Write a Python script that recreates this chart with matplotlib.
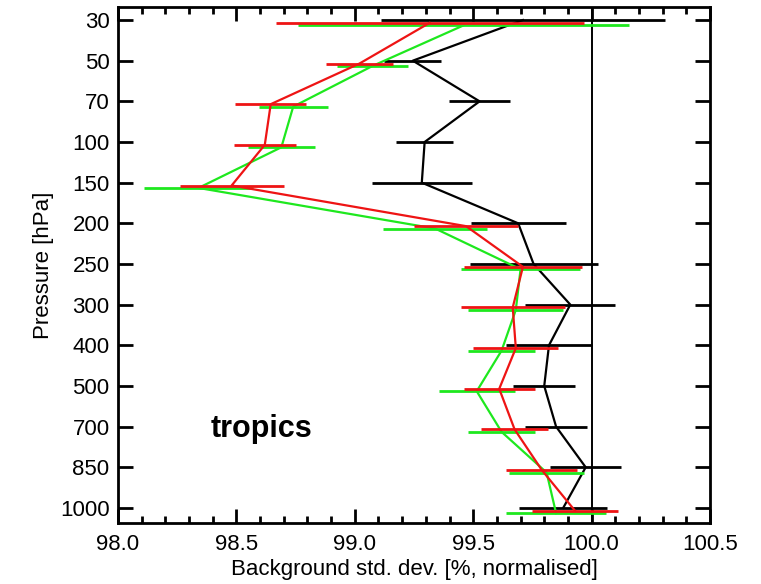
import matplotlib
matplotlib.use("Agg")
import matplotlib.pyplot as plt
import numpy as np
from matplotlib.ticker import MultipleLocator, FormatStrFormatter

plt.rcParams['font.family'] = ['Liberation Sans', 'DejaVu Sans']

levels = ["30", "50", "70", "100", "150", "200", "250", "300", "400", "500", "700", "850", "1000"]

black_val = [99.71, 99.245, 99.527, 99.295, 99.283, 99.69, 99.755, 99.91, 99.82, 99.80, 99.85, 99.975, 99.88]
black_err = [0.60, 0.12, 0.13, 0.12, 0.21, 0.20, 0.27, 0.19, 0.18, 0.13, 0.13, 0.15, 0.185]

red_val = [99.316, 99.02, 98.645, 98.62, 98.48, 99.47, 99.71, 99.667, 99.68, 99.61, 99.675, 99.79, 99.93]
red_err = [0.65, 0.14, 0.15, 0.13, 0.22, 0.22, 0.25, 0.22, 0.18, 0.15, 0.14, 0.15, 0.18]

green_val = [99.46, 99.075, 98.74, 98.69, 98.34, 99.34, 99.70, 99.68, 99.62, 99.515, 99.62, 99.81, 99.85]
green_err = [0.70, 0.15, 0.145, 0.14, 0.23, 0.22, 0.25, 0.20, 0.14, 0.16, 0.14, 0.16, 0.21]

fig = plt.figure(figsize=(7.61, 5.84), dpi=100)
ax = fig.add_axes([0.155, 0.1045, 0.778, 0.8835])

idx = np.arange(len(levels))
series = [
    (black_val, black_err, 'black', 0.0),
    (green_val, green_err, '#1ee81e', 0.13),
    (red_val, red_err, '#ee1414', 0.07),
]
for vals, errs, col, off in series:
    y = idx + off
    ax.plot(vals, y, color=col, lw=1.6, zorder=3)
    ax.errorbar(vals, y, xerr=errs, fmt='none', ecolor=col, elinewidth=2.0, capsize=0, zorder=3)

ax.axvline(100.0, color='black', lw=1.4, zorder=2)

ax.set_xlim(98.0, 100.5)
ax.set_ylim(12.37, -0.32)
ax.set_yticks(idx)
ax.set_yticklabels(levels)
ax.xaxis.set_major_locator(MultipleLocator(0.5))
ax.xaxis.set_minor_locator(MultipleLocator(0.1))
ax.xaxis.set_major_formatter(FormatStrFormatter('%.1f'))

ax.tick_params(axis='both', which='major', direction='in', length=10, width=2.0,
               labelsize=16, top=True, right=True)
ax.tick_params(axis='x', which='minor', direction='in', length=5, width=2.0, top=True)
ax.tick_params(axis='y', which='major', length=11, pad=6)
ax.tick_params(axis='x', which='major', pad=8)
for sp in ax.spines.values():
    sp.set_linewidth(2.0)

ax.set_xlabel("Background std. dev. [%, normalised]", fontsize=16, labelpad=3)
ax.set_ylabel("Pressure [hPa]", fontsize=16, labelpad=4)

ax.text(98.39, 10.05, "tropics", fontsize=22, fontweight='bold', ha='left', va='center')

fig.savefig("out.png", dpi=100)
